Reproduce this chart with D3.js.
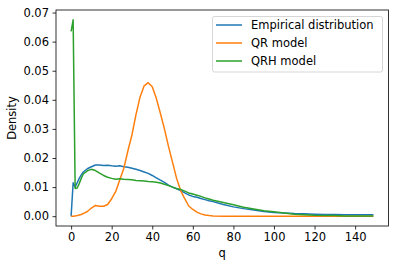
<!DOCTYPE html>
<html>
<head>
<meta charset="utf-8">
<script src="https://cdn.jsdelivr.net/npm/d3@7"></script>
<style>
  body { margin: 0; background: #fff; }
  svg text { font-family: "DejaVu Sans", sans-serif; fill: #000; }
</style>
</head>
<body>
<svg id="chart" width="399" height="267"></svg>
<script>
// q grid shared by all curves
var qValues = [0,1,2,3,4,5,6,8,10,12,14,16,18,20,22,24,26,28,30,32,34,36,38,40,42,44,46,48,50,52,54,56,58,60,62,64,66,68,70,75,80,85,90,95,100,105,110,115,120,125,130,135,140,145,149];

// Empirical distribution
var empirical = [0,0.0115,0.0100,0.0115,0.0130,0.0142,0.0152,0.0163,0.0170,0.0176,0.0176,0.0174,0.0175,0.0173,0.0172,0.0173,0.0170,0.0168,0.0165,0.0161,0.0157,0.0152,0.0147,0.0140,0.0132,0.0124,0.0116,0.0107,0.0100,0.0094,0.0088,0.0080,0.0073,0.0068,0.0065,0.0061,0.0057,0.0053,0.0050,0.0040,0.0032,0.0026,0.0021,0.0016,0.0013,0.0011,0.0009,0.0008,0.0007,0.0006,0.0006,0.0005,0.0005,0.0005,0.0005];

// QR model
var qrModel = [0,0,0.0001,0.0002,0.0004,0.0006,0.0009,0.0016,0.0028,0.0037,0.0034,0.0034,0.0040,0.0060,0.0085,0.0125,0.0165,0.0225,0.0280,0.0350,0.0410,0.0448,0.0459,0.0445,0.0405,0.0354,0.0300,0.0240,0.0185,0.0130,0.0088,0.0060,0.0035,0.0023,0.0014,0.0008,0.0004,0.0002,0.0001,0,0,0,0,0,0,0,0,0,0,0,0,0,0,0,0];

// QRH model
var qrhModel = [0.0635,0.0675,0.0095,0.0097,0.0112,0.0130,0.0145,0.0156,0.0161,0.0157,0.0148,0.0140,0.0134,0.0130,0.0127,0.0129,0.0127,0.0126,0.0125,0.0123,0.0122,0.0121,0.0119,0.0118,0.0117,0.0114,0.0110,0.0105,0.0100,0.0095,0.0092,0.0086,0.0080,0.0076,0.0072,0.0068,0.0063,0.0059,0.0055,0.0047,0.0039,0.0031,0.0025,0.0019,0.0015,0.0011,0.0007,0.0005,0.0003,0.0002,0.0002,0.0001,0.0001,0.0001,0.0001];

var seriesNames = ["Empirical distribution", "QR model", "QRH model"];
var seriesColors = ["#1f77b4", "#ff7f0e", "#2ca02c"];
var xTicks = [0,20,40,60,80,100,120,140];
var yTicks = [0,0.01,0.02,0.03,0.04,0.05,0.06,0.07];

var fontSize = "11.5px";
var margin = {left: 56, top: 10, right: 388.5, bottom: 226};
var svg = d3.select("#chart");

var x = d3.scaleLinear().domain([-7.45, 156.45]).range([margin.left, margin.right]);
var y = d3.scaleLinear().domain([-0.003375, 0.070875]).range([margin.bottom, margin.top]);

//Curves
var allSeries = [empirical, qrModel, qrhModel];
var line = d3.line()
  .x(function(d, i) { return x(qValues[i]); })
  .y(function(d) { return y(d); });

svg.append("g").selectAll("path")
  .data(allSeries)
  .enter().append("path")
  .attr("d", line)
  .attr("fill", "none")
  .attr("stroke", function(d, i) { return seriesColors[i]; })
  .attr("stroke-width", 1.5)
  .attr("stroke-linejoin", "round");

//Axes
var xAxis = svg.append("g")
  .attr("transform", "translate(0," + margin.bottom + ")")
  .call(d3.axisBottom(x).tickValues(xTicks).tickSize(3.5).tickPadding(3.5));
var yAxis = svg.append("g")
  .attr("transform", "translate(" + margin.left + ",0)")
  .call(d3.axisLeft(y).tickValues(yTicks).tickFormat(d3.format(".2f")).tickSize(3.5).tickPadding(3.5));

[xAxis, yAxis].forEach(function(a) {
  a.select(".domain").remove();
  a.selectAll("line").attr("stroke", "#000").attr("stroke-width", 0.8);
  a.selectAll("text").attr("font-size", fontSize).attr("font-family", "DejaVu Sans").attr("fill", "#000");
});

//Frame
svg.append("rect")
  .attr("x", margin.left).attr("y", margin.top)
  .attr("width", margin.right - margin.left).attr("height", margin.bottom - margin.top)
  .attr("fill", "none").attr("stroke", "#000").attr("stroke-width", 0.8);

//Axis labels
svg.append("text")
  .attr("x", (margin.left + margin.right) / 2).attr("y", 256.5)
  .attr("text-anchor", "middle").attr("font-size", fontSize)
  .text("q");
svg.append("text")
  .attr("transform", "translate(16," + ((margin.top + margin.bottom) / 2) + ") rotate(-90)")
  .attr("text-anchor", "middle").attr("font-size", fontSize)
  .text("Density");

//Legend
var legend = svg.append("g");
legend.append("rect")
  .attr("x", 212.5).attr("y", 16.5).attr("width", 170).attr("height", 55.5)
  .attr("rx", 2).attr("fill", "#fff").attr("fill-opacity", 0.8)
  .attr("stroke", "#ccc").attr("stroke-width", 0.8);
var entries = legend.selectAll("g.entry")
  .data(seriesNames)
  .enter().append("g")
  .attr("transform", function(d, i) { return "translate(0," + (25 + i * 18) + ")"; });
entries.append("line")
  .attr("x1", 216).attr("x2", 242)
  .attr("stroke", function(d, i) { return seriesColors[i]; })
  .attr("stroke-width", 1.5);
entries.append("text")
  .attr("x", 251).attr("y", 4)
  .attr("font-size", fontSize)
  .text(function(d) { return d; });
</script>
</body>
</html>
